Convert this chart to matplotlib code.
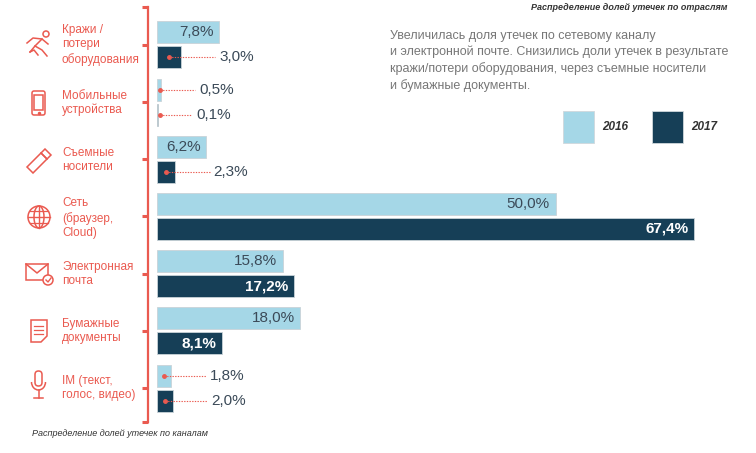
import numpy as np
import matplotlib.pyplot as plt
from matplotlib.patches import Rectangle, FancyBboxPatch, Circle, Arc, Polygon

plt.rcParams['font.family'] = ['Liberation Sans', 'DejaVu Sans']

categories = ['Кражи /\nпотери\nоборудования', 'Мобильные\nустройства', 'Съемные\nносители',
              'Сеть\n(браузер,\nCloud)', 'Электронная\nпочта', 'Бумажные\nдокументы',
              'IM (текст,\nголос, видео)']
share_2016 = [7.8, 0.5, 6.2, 50.0, 15.8, 18.0, 1.8]
share_2017 = [3.0, 0.1, 2.3, 67.4, 17.2, 8.1, 2.0]
years = ['2016', '2017']

c16 = '#a5d7e7'
c17 = '#163f57'
red = '#ea5a50'
txt = '#3b4a58'

W, H = 756, 453
fig = plt.figure(figsize=(W / 100, H / 100), dpi=100)

# overlay for labels, icons and notes (pixel coords)
ov = fig.add_axes([0, 0, 1, 1])
ov.set_xlim(0, W)
ov.set_ylim(H, 0)
ov.axis('off')

# main bar axes: left spine = red line at x=148px, value 0 at 157px
px_per = 7.97
x0 = -(157 - 148) / px_per
x1 = (740 - 157) / px_per
ax = fig.add_axes([148 / W, (H - 422) / H, (740 - 148) / W, 415 / H])
ax.patch.set_visible(False)
step = 57.17
ytop = -(45 - 7) / step
ybot = 6 + (422 - 388) / step
ax.set_xlim(x0, x1)
ax.set_ylim(ybot, ytop)

pos = np.arange(len(categories))
off = 12.5 / step
bh = 22 / step
ax.barh(pos - off, share_2016, left=0, height=bh, color=c16, edgecolor='#c9d3d8', linewidth=0.6)
ax.barh(pos + off, share_2017, left=0, height=bh, color=c17, edgecolor='#c9d3d8', linewidth=0.6)

for sp in ['top', 'right', 'bottom']:
    ax.spines[sp].set_visible(False)
ax.spines['left'].set_color(red)
ax.spines['left'].set_linewidth(1.6)
ax.set_xticks([])
ax.set_yticks(list(pos) + [ytop, ybot])
ax.set_yticklabels([])
ax.tick_params(axis='y', colors=red, length=4, width=2.2, direction='out')


def fmt(v):
    return f'{v:.1f}'.replace('.', ',') + '%'


for vals, dy, year in [(share_2016, -off, '2016'), (share_2017, off, '2017')]:
    for i, v in enumerate(vals):
        y = i + dy
        if v > 5:
            if year == '2016':
                ax.text(v - 0.7, y, fmt(v), ha='right', va='center', fontsize=11, color=txt)
            else:
                ax.text(v - 0.7, y, fmt(v), ha='right', va='center', fontsize=11,
                        color='white', fontweight='bold')
        else:
            xd = max(v / 2, 0.35)
            xe = v + 4.3
            ax.plot([xd, xe], [y, y], color=red, lw=0.8, ls=(0, (1.2, 1.2)))
            ax.plot([xd], [y], 'o', color=red, ms=2.5)
            ax.text(xe + 0.5, y, fmt(v), ha='left', va='center', fontsize=11, color=txt)

centers = [45, 103, 160, 218, 274, 331, 388]
for lab, cy in zip(categories, centers):
    ov.text(62, cy, lab, ha='left', va='center', fontsize=8.5, color=red, linespacing=1.25)

kw = dict(fill=False, edgecolor=red, lw=1.1)
# runner
ov.add_patch(Circle((46, 34), 3, **kw))
ov.plot([42, 35, 30], [39, 46, 52], color=red, lw=1.1)
ov.plot([35, 42, 47], [46, 50, 56], color=red, lw=1.1)
ov.plot([30, 34, 38], [52, 50, 55], color=red, lw=1.1)
ov.plot([27, 33, 42, 48], [43, 38, 39, 44], color=red, lw=1.1)
# phone
ov.add_patch(FancyBboxPatch((32, 91), 13, 24, boxstyle='round,pad=0,rounding_size=2', **kw))
ov.add_patch(Rectangle((34, 95), 9, 15, **kw))
ov.plot([38.5], [112.5], 'o', color=red, ms=1.5)
# usb stick
ov.add_patch(Polygon([(27, 167), (41, 153), (47, 159), (33, 173)], closed=True, **kw))
ov.add_patch(Polygon([(41, 153), (45, 149), (51, 155), (47, 159)], closed=True, **kw))
# globe
ov.add_patch(Circle((39, 217), 11, **kw))
ov.add_patch(Arc((39, 217), 10, 22, **kw))
ov.plot([39, 39], [206, 228], color=red, lw=1.0)
ov.plot([28, 50], [217, 217], color=red, lw=1.0)
ov.plot([30, 48], [211, 211], color=red, lw=0.9)
ov.plot([30, 48], [223, 223], color=red, lw=0.9)
# envelope
ov.add_patch(Rectangle((26, 264), 22, 16, **kw))
ov.plot([26, 37, 48], [264, 273, 264], color=red, lw=1.1)
ov.add_patch(Circle((48, 280), 5, facecolor='white', edgecolor=red, lw=1.1))
ov.plot([46, 48, 51], [280, 282, 278], color=red, lw=1.0)
# document
ov.add_patch(Polygon([(31, 320), (47, 320), (47, 336), (41, 342), (31, 342)], closed=True, **kw))
for yy in [326, 330, 334]:
    ov.plot([34, 43], [yy, yy], color=red, lw=0.9)
# microphone
ov.add_patch(FancyBboxPatch((35, 371), 7, 15, boxstyle='round,pad=0,rounding_size=3.5', **kw))
ov.add_patch(Arc((38.5, 382), 14, 16, theta1=0, theta2=180, **kw))
ov.plot([38.5, 38.5], [390, 398], color=red, lw=1.1)
ov.plot([34, 43], [398, 398], color=red, lw=1.1)

# notes
ov.text(727, 7, 'Распределение долей утечек по отраслям', ha='right', va='center',
        fontsize=6.5, style='italic', fontweight='bold', color='#333333')
ov.text(32, 433, 'Распределение долей утечек по каналам', ha='left', va='center',
        fontsize=6.5, style='italic', color='#333333')
ov.text(390, 30, 'Увеличилась доля утечек по сетевому каналу\n'
                 'и электронной почте. Снизились доли утечек в результате\n'
                 'кражи/потери оборудования, через съемные носители\n'
                 'и бумажные документы.',
        ha='left', va='top', fontsize=9, color='#777777', linespacing=1.38)

# legend
for xl, col, yr in [(563, c16, years[0]), (652, c17, years[1])]:
    ov.add_patch(Rectangle((xl, 111), 31, 32, facecolor=col, edgecolor='#d0d8dc', lw=0.6))
    ov.text(xl + 39, 127, yr, ha='left', va='center', fontsize=8.5, style='italic',
            fontweight='bold', color='#333333')

fig.savefig('out.png', dpi=100)
